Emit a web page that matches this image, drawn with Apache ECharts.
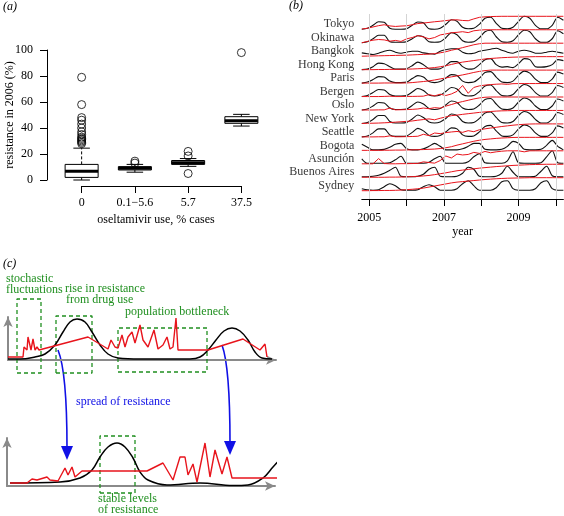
<!DOCTYPE html>
<html><head><meta charset="utf-8">
<script src="https://cdn.jsdelivr.net/npm/echarts@6/dist/echarts.min.js"></script>
<style>html,body{margin:0;padding:0;background:#fff}#c{width:564px;height:516px}</style>
</head><body><div id="c"></div>
<script>
const FONT = "'Liberation Serif','Times New Roman',serif";

// ---------- Panel (a): resistance in 2006 by oseltamivir use ----------
const useCats = ['0', '0.1\u22125.6', '5.7', '37.5'];
const boxMin = [0, 6, 10.5, 41.5];
const boxQ1  = [2, 7.7, 12, 43.6];
const boxMed = [6.8, 9, 13.3, 45.6];
const boxQ3  = [12, 10.3, 15, 48.7];
const boxMax = [24.5, 12, 16.5, 50.5];
const outliers0 = [79, 58, 48, 46, 43, 40, 37, 35, 33, 32, 31, 30, 29, 28];
const outliers1 = [14.5, 13];
const outliers2 = [22, 18.5, 5];
const outliers3 = [98];

// ---------- Panel (b): seasonal incidence (black) and resistance % (red) ----------
const cities = ['Tokyo','Okinawa','Bangkok','Hong Kong','Paris','Bergen','Oslo','New York','Seattle','Bogota','Asunci\u00f3n','Buenos Aires','Sydney'];
const tStart = 2004.8, tStep = 0.15, tEnd = 2010.2;
const yearTicks = [2005, 2006, 2007, 2008, 2009, 2010];
const yearLabels = [2005, 2007, 2009];

const incTokyo = [0,1,4,7.5,7,1,0,0,0.5,4,7.3,6.5,0.5,0,1,5,9.5,8,2,0.5,1,5,11,12,6,1,0.5,2,8,13,11,4,0.5,0.5,4,12,9];
const incOkinawa = [0,1,4,7.5,7.5,1,0.5,0.5,1,4,7,6,1,0.5,1,5,10,8,2,0.5,1,5,11,12.5,6,1,0.5,2,8,12.5,11,4,0.5,0.5,4,12,9];
const incBangkok = [3.3,2.5,1.7,3,5,6,4,3,4,5,5,3.3,2.5,2,5,6.5,7.5,7.5,4,2.5,3,5,6,7,8,6,4,3,5,6,5,3,3,4,5,4,3];
const incHongKong = [0,0.5,3,6.5,6,3,0.5,0.5,1,4,7.5,5,1,0.5,1,4,8,8,3,0.5,1,5,10,11,5,2.5,3,2,6,11,10,3,2.5,3,5,10,9];
const incParis = [0,1,3.5,6.5,6,2,0.5,0.5,1,4.5,7.5,6,1.5,0.5,1.5,5,8.5,7.5,2,0.5,1,5,10.5,11.5,6,1,0.5,2,8,12,10,4,0.5,0.5,4,11,9];
const incBergen = [0,1,4,7,6.5,2,0.5,0.5,1,4.5,8,6,1.5,0.5,1.5,5,9,7.5,2,0.5,1,5,10.5,11.5,6,1,0.5,2,8,12,10,4,0.5,0.5,4,11,9];
const incOslo = [0,1,4,7.5,7,2,0.5,0.5,1,4.5,8,6,1.5,0.5,1.5,5,9,7.5,2,0.5,1,5,10.5,11.5,6,1,0.5,2,8,12,10,4,0.5,0.5,4,11,9];
const incNewYork = [0,1,4,8,8,2,0.5,0.5,1,4.5,8.5,6,1.5,0.5,1.5,5,9.5,8,2,0.5,1,5,10.5,11.5,6,1,0.5,2,8,12,10,4,0.5,0.5,4,11,9];
const incSeattle = [0,1,4,8,8,2,0.5,0.5,1,4.5,8.5,6,1.5,0.5,1.5,5,9,8,2,0.5,1,5,10.5,11.5,6,1,0.5,2,8,12,10,4,0.5,0.5,4,11,9];
const incBogota = [6,3,0.5,0.5,1,3,6,7,1.5,0.5,0.5,1.5,4,7,4,0.5,0.5,0.5,1.5,4,7,7,1,0.5,0.5,1,4,9,7,1,0.5,0.5,1,5,10,4,0.5];
const incAsuncion = [5,0.5,0.5,0.5,0.5,1,4,7.5,0.5,0.5,0.5,0.5,1.5,5,7.5,0.5,0.5,0.5,0.5,2,7,10,1,0.5,0.5,0.5,3,12,1,0.5,0.5,0.5,1,7,13,1,0.5];
const incBuenosAires = [0.5,0.5,1,2,4,7,10,1,0.5,0.5,1,3,8,10,1,0.5,0.5,1,4,10,8,1,0.5,0.5,1,4,11,5,0.5,0.5,0.5,1,6,11,1.5,0.5,0.5];
const incSydney = [2,1,0.5,1,4,7,5,1,0.5,0.5,1,4,6,4,0.5,0.5,0.5,2,7,10,5,0.5,0.5,0.5,3,9,10,2,0.5,0.5,0.5,2,8,10,2,0.5,0.5];

const resTokyo = [2,8,18,28,35,26,22,25,27,35,44,48,53,58,62,67,72,73,68,66,80,92,96,98,99,100,100,100,100,100,100,100,100,100,100,100,100];
const resOkinawa = [0,10,20,25,22,12,18,10,30,40,55,45,30,40,60,68,77,80,85,78,92,97,100,100,100,100,100,100,100,100,100,100,100,100,100,100,100];
const resBangkok = [0,1,2,3,4,5,6,7,8,10,12,14,16,20,26,34,46,55,66,77,88,96,100,100,100,100,100,100,100,100,100,100,100,100,100,100,100];
const resHongKong = [0,0,0,1,1,2,2,3,4,5,7,9,12,16,22,30,40,50,58,64,70,76,82,86,89,92,94,96,97,98,99,100,100,100,100,100,100];
const resParis = [0,0,0,0,1,1,1,1,1,4,8,12,17,24,32,40,48,55,63,72,82,90,96,100,100,100,100,100,100,100,100,100,100,100,100,100,100];
const resBergen = [0,0,0,0,1,3,0,0,1,1,2,3,15,5,18,8,20,40,85,25,70,82,88,92,95,97,94,99,100,100,100,100,100,100,100,100,100];
const resOslo = [0,0,0,1,1,15,1,2,3,5,8,15,10,18,14,30,42,55,65,75,85,93,98,100,100,100,100,100,100,100,100,100,100,100,100,100,100];
const resNewYork = [0,1,2,3,5,7,10,13,16,19,25,30,35,28,40,50,60,64,70,75,80,85,89,92,95,97,98,99,100,100,100,100,100,100,100,100,100];
const resSeattle = [0,0,0,1,1,8,1,1,2,3,5,20,10,30,25,33,38,42,35,48,40,55,62,68,74,80,85,90,94,97,99,100,100,100,100,100,100];
const resBogota = [0,0,0,0,1,1,2,2,3,4,5,6,8,10,14,20,28,40,50,60,70,78,84,88,92,95,97,99,100,100,100,100,100,100,100,100,100];
const resAsuncion = [0,0,0,40,2,0,0,1,1,2,3,15,10,5,25,60,45,75,68,72,88,80,95,85,92,97,100,100,100,92,100,100,100,100,100,100,100];
const resBuenosAires = [0,0,0,0,0,1,1,2,3,5,7,10,14,20,27,34,42,50,55,60,65,70,74,78,82,85,88,91,93,95,97,98,99,100,100,100,100];
const resSydney = [0,0,1,1,2,2,3,5,8,11,15,20,28,36,44,52,60,66,70,74,78,82,86,89,92,94,96,97,98,99,100,100,100,100,100,100,100];

const cityInc = [incTokyo,incOkinawa,incBangkok,incHongKong,incParis,incBergen,incOslo,incNewYork,incSeattle,incBogota,incAsuncion,incBuenosAires,incSydney];
const cityRes = [resTokyo,resOkinawa,resBangkok,resHongKong,resParis,resBergen,resOslo,resNewYork,resSeattle,resBogota,resAsuncion,resBuenosAires,resSydney];

// ---------- Panel (c): schematic ----------
const schemTopIncX = [0,12,27,37,47,55,62,69,77,84,92,100,110,132,182,192,200,208,216,224,232,240,247,254,264];
const schemTopIncY = [1,1,3,6,15,28,38,41,38,28,15,6,2,1,1,3,10,20,29,32,29,20,8,2,1];
const schemTopResX = [0,15,16,19,20,23,25,27,29,31,80,100,103,107,110,114,117,120,124,127,132,135,140,146,150,155,159,162,165,168,170,200,235,252,257,259];
const schemTopResY = [3,3,13,10,23,10,21,10,13,10,23,11,20,13,12,25,13,23,28,17,35,20,13,30,11,15,23,11,13,42,10,10,21,10,16,3];
const schemBotIncX = [3,53,73,85,93,101,110,118,126,133,141,160,193,226,241,256,266,275];
const schemBotIncY = [3,4,8,16,29,39,43,39,28,14,6,1,3,0.5,1,8,19,29];
const schemBotResX = [3,20,25,30,40,43,51,58,61,65,68,75,140,156,166,173,178,181,186,190,198,203,208,215,220,225,273];
const schemBotResY = [3,3,7,6,9,6,5,18,11,19,9,15,15,23,6,29,29,11,22,4,43,9,36,12,29,8,8];
// annotation boxes [x0, x1, y0, y1]
const topBoxes = [[9,33,-13,61],[48,84,-13,44],[110,199,-12,32]];
const botBoxes = [[93,128,-7,50]];

// ---------- build ----------
const RED = '#e8141c', GREEN = '#1f8f1f', BLUE = '#1010e6', GREY = '#8a8a8a';
const rowGap = 13.45, resScale = 0.13;
const tx = k => +(tStart + k * tStep).toFixed(3);

const series = [];
// (a) boxes
series.push({
  type: 'custom', xAxisIndex: 0, yAxisIndex: 0, silent: true, z: 3,
  data: useCats.map((c, i) => [i, boxMin[i], boxQ1[i], boxMed[i], boxQ3[i], boxMax[i]]),
  encode: { x: 0, y: [1, 2, 3, 4, 5] },
  renderItem: function (params, api) {
    const c = api.value(0);
    const x = api.coord([c, 0])[0];
    const bw = api.size([1, 0])[0] * 0.62;
    const y = v => api.coord([c, v])[1];
    const yMin = y(api.value(1)), yQ1 = y(api.value(2)), yMed = y(api.value(3)), yQ3 = y(api.value(4)), yMax = y(api.value(5));
    const solid = { stroke: '#000', lineWidth: 1 };
    const dash = { stroke: '#000', lineWidth: 1, lineDash: [3, 2] };
    return { type: 'group', children: [
      { type: 'line', shape: { x1: x, y1: yQ3, x2: x, y2: yMax }, style: dash },
      { type: 'line', shape: { x1: x, y1: yQ1, x2: x, y2: yMin }, style: dash },
      { type: 'line', shape: { x1: x - bw / 4, y1: yMax, x2: x + bw / 4, y2: yMax }, style: solid },
      { type: 'line', shape: { x1: x - bw / 4, y1: yMin, x2: x + bw / 4, y2: yMin }, style: solid },
      { type: 'rect', shape: { x: x - bw / 2, y: yQ3, width: bw, height: yQ1 - yQ3 }, style: { fill: '#fff', stroke: '#000', lineWidth: 1 } },
      { type: 'line', shape: { x1: x - bw / 2, y1: yMed, x2: x + bw / 2, y2: yMed }, style: { stroke: '#000', lineWidth: 3 } }
    ] };
  }
});
const outl = [];
[outliers0, outliers1, outliers2, outliers3].forEach((arr, i) => arr.forEach(v => outl.push([i, v])));
series.push({
  type: 'scatter', xAxisIndex: 0, yAxisIndex: 0, data: outl, symbol: 'circle', symbolSize: 8, z: 4, silent: true,
  itemStyle: { color: 'rgba(0,0,0,0)', borderColor: '#000', borderWidth: 1 }
});

// (b) grid lines + labels
const nC = cities.length;
series.push({
  type: 'scatter', xAxisIndex: 2, yAxisIndex: 2, z: 1, silent: true, symbolSize: 1,
  itemStyle: { color: 'rgba(0,0,0,0)' },
  data: cities.map((c, i) => ({ name: c, value: [tStart, (nC - 1 - i) * rowGap + 5] })),
  label: { show: true, position: 'left', distance: 7, formatter: '{b}', fontFamily: FONT, fontSize: 12, color: '#000' },
  markLine: { silent: true, symbol: 'none', label: { show: false }, animation: false,
    lineStyle: { color: '#d4d4d4', type: 'solid', width: 1 },
    data: yearTicks.map(y => ({ xAxis: y })) }
});
cityInc.forEach((arr, i) => {
  const base = (nC - 1 - i) * rowGap;
  series.push({ type: 'line', xAxisIndex: 2, yAxisIndex: 2, z: 3, silent: true, symbol: 'none', smooth: 0.3,
    lineStyle: { color: '#111', width: 1.1 }, data: arr.map((v, k) => [tx(k), base + v]) });
});
cityRes.forEach((arr, i) => {
  const base = (nC - 1 - i) * rowGap;
  series.push({ type: 'line', xAxisIndex: 2, yAxisIndex: 2, z: 4, silent: true, symbol: 'none',
    lineStyle: { color: RED, width: 1 }, data: arr.map((v, k) => [tx(k), base + v * resScale]) });
});

// (c) schematic
function pairs(xs, ys) { return xs.map((x, i) => [x, ys[i]]); }
function boxPath(b) { return [[b[0], b[2]], [b[1], b[2]], [b[1], b[3]], [b[0], b[3]], [b[0], b[2]]]; }
[[3, schemTopIncX, schemTopIncY, schemTopResX, schemTopResY, topBoxes], [4, schemBotIncX, schemBotIncY, schemBotResX, schemBotResY, botBoxes]].forEach(p => {
  const gi = p[0];
  p[5].forEach(b => series.push({ type: 'line', xAxisIndex: gi, yAxisIndex: gi, clip: false, z: 2, silent: true, symbol: 'none',
    lineStyle: { color: GREEN, width: 1.3, type: [4, 3] }, data: boxPath(b) }));
  series.push({ type: 'line', xAxisIndex: gi, yAxisIndex: gi, clip: false, z: 3, silent: true, symbol: 'none', smooth: 0.4,
    lineStyle: { color: '#000', width: 1.5 }, data: pairs(p[1], p[2]) });
  series.push({ type: 'line', xAxisIndex: gi, yAxisIndex: gi, clip: false, z: 4, silent: true, symbol: 'none',
    lineStyle: { color: RED, width: 1.4 }, data: pairs(p[3], p[4]) });
});

const axisText = { fontFamily: FONT, fontSize: 12, color: '#000' };
const arrowAxis = { show: true, onZero: false, symbol: ['none', 'arrow'], symbolSize: [7, 10], lineStyle: { color: GREY, width: 2 } };

function txt(x, y, s, color, extra) {
  return Object.assign({ type: 'text', x: x, y: y, silent: true,
    style: Object.assign({ text: s, font: '12px ' + FONT, fill: color || '#000', textAlign: 'left', align: 'left', textVerticalAlign: 'middle', verticalAlign: 'middle' }, extra || {}) });
}

const option = {
  animation: false,
  backgroundColor: '#fff',
  textStyle: { fontFamily: FONT },
  grid: [
    { left: 55, top: 50, width: 213, height: 130 },
    { left: 81.6, top: 50, width: 159.8, height: 130 },
    { left: 361.8, top: 14, width: 201.6, height: 185 },
    { left: 8, top: 317, width: 268, height: 43 },
    { left: 7, top: 438, width: 268, height: 48 }
  ],
  xAxis: [
    { type: 'category', gridIndex: 0, data: useCats, boundaryGap: true,
      axisLine: { show: false }, axisTick: { show: false },
      axisLabel: Object.assign({ margin: 17, interval: 0 }, axisText), splitLine: { show: false } },
    { type: 'value', gridIndex: 1, min: 0, max: 3, interval: 1, offset: 6,
      axisLine: { show: true, onZero: false, lineStyle: { color: '#000' } },
      axisTick: { show: true, length: 7, lineStyle: { color: '#000' } },
      axisLabel: { show: false }, splitLine: { show: false } },
    { type: 'value', gridIndex: 2, min: tStart, max: tEnd,
      axisLine: { show: true, onZero: false, lineStyle: { color: '#000' } },
      axisTick: { show: true, customValues: yearTicks, length: 7, lineStyle: { color: '#000' } },
      axisLabel: Object.assign({ customValues: yearLabels, formatter: v => String(v), margin: 13 }, axisText),
      splitLine: { show: false },
      name: 'year', nameLocation: 'middle', nameGap: 27, nameTextStyle: axisText },
    { type: 'value', gridIndex: 3, min: 0, max: 268, axisLine: arrowAxis, axisTick: { show: false }, axisLabel: { show: false }, splitLine: { show: false } },
    { type: 'value', gridIndex: 4, min: 0, max: 268, axisLine: arrowAxis, axisTick: { show: false }, axisLabel: { show: false }, splitLine: { show: false } }
  ],
  yAxis: [
    { type: 'value', gridIndex: 0, min: 0, max: 100, interval: 20, offset: 8,
      axisLine: { show: true, onZero: false, lineStyle: { color: '#000' } },
      axisTick: { show: true, length: 7, lineStyle: { color: '#000' } },
      axisLabel: Object.assign({ margin: 14 }, axisText), splitLine: { show: false },
      name: 'resistance in 2006 (%)', nameLocation: 'middle', nameRotate: 90, nameGap: 31, nameMoveOverlap: false, nameTextStyle: axisText },
    { type: 'value', gridIndex: 1, min: 0, max: 100, show: false },
    { type: 'value', gridIndex: 2, min: -8.3, max: 176.7, show: false },
    { type: 'value', gridIndex: 3, min: 0, max: 43, axisLine: arrowAxis, axisTick: { show: false }, axisLabel: { show: false }, splitLine: { show: false } },
    { type: 'value', gridIndex: 4, min: 0, max: 48, axisLine: arrowAxis, axisTick: { show: false }, axisLabel: { show: false }, splitLine: { show: false } }
  ],
  graphic: [
    txt(3, 7, '(a)', '#000', { font: 'italic 12px ' + FONT }),
    txt(289, 6, '(b)', '#000', { font: 'italic 12px ' + FONT }),
    txt(3, 264, '(c)', '#000', { font: 'italic 12px ' + FONT }),
    txt(156, 220, 'oseltamivir use, % cases', '#000', { textAlign: 'center', align: 'center' }),
    txt(6, 279, 'stochastic', GREEN),
    txt(6, 290, 'fluctuations', GREEN),
    txt(65, 289, 'rise in resistance', GREEN),
    txt(66, 300, 'from drug use', GREEN),
    txt(125, 312, 'population bottleneck', GREEN),
    txt(98, 499, 'stable levels', GREEN),
    txt(98, 510, 'of resistance', GREEN),
    txt(76, 402, 'spread of resistance', BLUE),
    { type: 'bezierCurve', silent: true, shape: { x1: 58, y1: 350, x2: 67, y2: 448, cpx1: 67, cpy1: 372 }, style: { stroke: BLUE, lineWidth: 1.6, fill: null } },
    { type: 'polygon', silent: true, shape: { points: [[61, 446], [73, 446], [67, 460]] }, style: { fill: BLUE } },
    { type: 'bezierCurve', silent: true, shape: { x1: 222, y1: 345, x2: 230, y2: 443, cpx1: 230, cpy1: 367 }, style: { stroke: BLUE, lineWidth: 1.6, fill: null } },
    { type: 'polygon', silent: true, shape: { points: [[224, 441], [236, 441], [230, 455]] }, style: { fill: BLUE } }
  ],
  series: series
};
const chart = echarts.init(document.getElementById('c'), null, { renderer: 'canvas', width: 564, height: 516 });
chart.setOption(option);
</script>
</body></html>
